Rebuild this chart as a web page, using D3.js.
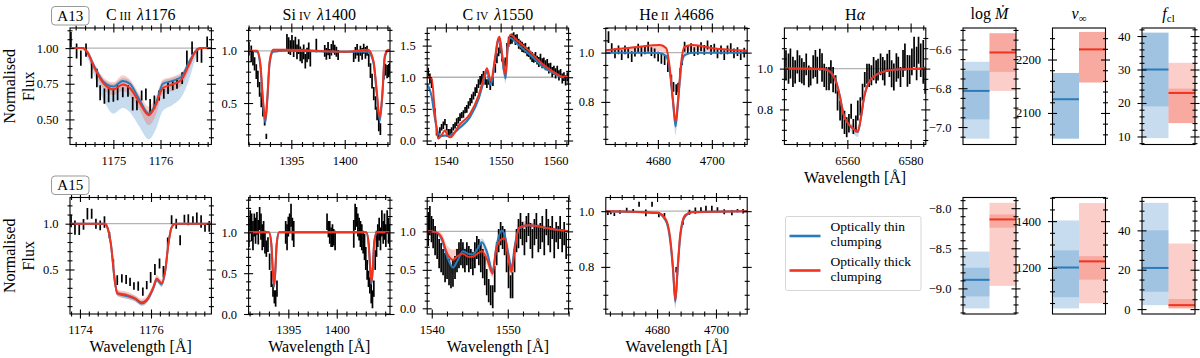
<!DOCTYPE html>
<html>
<head>
<meta charset="utf-8">
<script src="https://cdn.jsdelivr.net/npm/d3@7"></script>
<style>
	body { margin: 0; background: #fff; }
	svg { font-family: "Liberation Serif", "DejaVu Serif", serif; }
</style>
</head>
<body>
<svg id="chart" width="1200" height="358"></svg>
<script>
/* ---- observed spectra: [wavelength, flux, error] ---- */
const a13_c3_obs = [
	[1174.10,1.06,0.053],[1174.22,0.98,0.053],[1174.31,0.93,0.053],[1174.42,0.986,0.047],[1174.54,0.845,0.059],
	[1174.65,0.79,0.065],[1174.72,0.687,0.053],[1174.81,0.663,0.053],[1174.90,0.674,0.053],[1175.00,0.67,0.047],
	[1175.09,0.687,0.053],[1175.20,0.69,0.035],[1175.31,0.70,0.041],[1175.41,0.61,0.047],[1175.50,0.60,0.035],
	[1175.60,0.667,0.035],[1175.69,0.675,0.041],[1175.78,0.59,0.053],[1175.87,0.62,0.047],[1175.97,0.667,0.035],
	[1176.07,0.68,0.035],[1176.16,0.72,0.041],[1176.26,0.74,0.035],[1176.35,0.75,0.035],[1176.46,0.79,0.041],
	[1176.56,0.93,0.053],[1176.67,1.0,0.047],[1176.78,0.95,0.047],[1176.87,0.95,0.053],[1176.99,1.04,0.041]
];
const a13_si4_obs = [
	[1391.03,1.02,0.065],[1391.25,0.97,0.08],[1391.41,0.93,0.07],[1391.56,0.875,0.064],[1391.72,0.80,0.07],
	[1391.87,0.73,0.08],[1392.03,0.63,0.07],[1392.19,0.53,0.07],[1392.34,0.44,0.07],[1392.50,0.35,0.064],[1392.66,0.18,0.025],
	[1394.59,1.08,0.08],[1394.75,1.05,0.08],[1394.91,1.03,0.07],[1395.06,1.08,0.07],[1395.22,1.02,0.08],[1395.38,1.07,0.064],
	[1395.53,0.99,0.07],[1395.69,1.04,0.07],[1395.84,0.97,0.07],[1396.00,0.95,0.07],[1396.16,0.99,0.07],[1396.31,0.90,0.07],
	[1396.47,0.96,0.07],[1396.63,1.0,0.08],[1396.78,0.92,0.07],[1397.34,1.05,0.064],
	[1398.13,1.0,0.056],[1398.28,0.97,0.056],[1398.44,1.02,0.064],[1398.59,0.97,0.048],[1398.75,1.01,0.056],
	[1398.91,1.05,0.048],[1399.06,1.01,0.048],[1399.22,0.99,0.048],[1399.38,0.96,0.048],
	[1400.84,0.94,0.048],[1401.00,0.98,0.056],[1401.16,1.01,0.056],[1401.31,0.95,0.056],[1401.47,1.0,0.048],
	[1401.63,0.97,0.056],[1401.78,1.02,0.048],[1401.94,0.98,0.056],[1402.09,1.0,0.048],[1402.25,0.91,0.064],
	[1402.41,0.81,0.07],[1402.56,0.71,0.07],[1402.72,0.59,0.064],[1402.88,0.50,0.064],[1403.03,0.40,0.064],
	[1403.19,0.30,0.07],[1403.34,0.25,0.056],
	[1403.66,0.79,0.064],[1403.81,0.82,0.056],[1403.97,0.80,0.064],[1404.13,0.81,0.064],[1404.22,0.83,0.056]
];
const a13_c4_obs = [
	[1536.78,1.08,0.07],[1537.09,0.98,0.08],[1537.40,0.90,0.07],[1538.01,0.45,0.06],[1538.31,0.13,0.05],
	[1538.62,0.08,0.05],[1538.92,0.16,0.05],[1539.23,0.21,0.05],[1539.54,0.24,0.06],[1539.84,0.29,0.05],
	[1540.15,0.21,0.05],[1540.45,0.13,0.05],[1540.76,0.13,0.05],[1541.06,0.16,0.05],[1541.37,0.21,0.05],
	[1541.68,0.24,0.05],[1541.98,0.29,0.06],[1542.29,0.32,0.05],[1542.59,0.37,0.06],[1542.90,0.40,0.05],
	[1543.21,0.42,0.06],[1543.51,0.48,0.05],[1543.82,0.50,0.06],[1544.12,0.56,0.06],[1544.43,0.61,0.06],
	[1544.73,0.66,0.07],[1545.04,0.71,0.06],[1545.35,0.77,0.07],[1545.65,0.82,0.07],[1545.96,0.90,0.07],
	[1546.26,0.95,0.07],[1546.57,0.98,0.07],[1546.88,1.03,0.07],[1547.18,0.95,0.07],[1547.49,0.90,0.07],
	[1547.79,0.95,0.07],[1548.10,0.87,0.07],[1548.59,0.93,0.07],[1549.02,1.14,0.07],[1549.32,1.30,0.08],
	[1549.63,1.40,0.07],[1549.93,1.46,0.08],[1550.24,1.32,0.07],[1550.54,1.19,0.07],[1550.85,1.24,0.07],
	[1551.16,1.46,0.08],[1551.46,1.56,0.08],[1551.77,1.59,0.07],[1552.07,1.61,0.08],[1552.38,1.64,0.07],
	[1552.69,1.59,0.08],[1552.99,1.61,0.07],[1553.30,1.53,0.08],[1553.60,1.51,0.07],[1553.91,1.48,0.08],
	[1554.21,1.46,0.07],[1554.52,1.46,0.08],[1554.83,1.40,0.07],[1555.13,1.40,0.08],[1555.44,1.35,0.07],
	[1555.74,1.32,0.08],[1556.05,1.30,0.07],[1556.36,1.32,0.08],[1556.66,1.27,0.07],[1556.97,1.24,0.08],
	[1557.27,1.30,0.07],[1557.58,1.22,0.08],[1557.88,1.24,0.07],[1558.19,1.19,0.08],[1558.50,1.22,0.07],
	[1558.80,1.14,0.08],[1559.11,1.16,0.07],[1559.41,1.08,0.08],[1559.72,1.11,0.07],[1560.03,1.06,0.08],
	[1560.33,1.11,0.07],[1560.64,1.03,0.08],[1560.94,1.06,0.07],[1561.25,0.98,0.08],[1561.55,1.01,0.07],
	[1561.86,0.95,0.08],[1562.17,1.01,0.07],[1562.35,0.95,0.07]
];
const a13_he2_obs = [
	[4661.7,1.063,0.024],[4662.9,1.018,0.02],[4664.1,0.997,0.02],[4665.4,1.011,0.018],[4666.6,0.99,0.02],
	[4667.8,1.011,0.018],[4669.0,0.997,0.02],[4670.3,0.984,0.022],[4671.5,1.004,0.02],[4672.7,1.018,0.018],
	[4673.9,1.004,0.02],[4675.2,1.011,0.018],[4676.4,1.024,0.02],[4677.6,1.004,0.018],[4678.8,0.997,0.02],
	[4680.1,0.984,0.02],[4681.3,0.977,0.022],[4682.5,0.97,0.02],[4683.7,0.943,0.022],[4685.0,0.888,0.022],
	[4685.8,0.861,0.02],[4686.8,0.85,0.022],[4687.5,0.858,0.02],[4688.3,0.916,0.022],[4689.0,0.97,0.02],
	[4689.9,1.024,0.02],[4691.1,1.011,0.018],[4692.3,1.018,0.02],[4693.5,1.004,0.018],[4694.8,1.011,0.02],
	[4696.0,1.024,0.018],[4697.2,1.011,0.02],[4698.4,1.031,0.018],[4699.7,1.011,0.02],[4700.9,1.018,0.018],
	[4702.1,0.997,0.02],[4703.4,1.011,0.018],[4704.6,0.99,0.02],[4705.8,1.011,0.018],[4707.0,1.018,0.02],
	[4708.2,0.997,0.02],[4709.5,1.004,0.018],[4710.7,0.99,0.02],[4712.0,1.0,0.02]
];
const a13_ha_obs = [
	[6540.6,1.016,0.074],[6541.4,1.0,0.074],[6542.0,1.025,0.074],[6542.8,0.984,0.074],[6543.5,0.984,0.057],
	[6544.2,1.033,0.057],[6544.9,1.0,0.066],[6545.6,0.989,0.062],[6546.3,0.975,0.057],[6547.0,1.021,0.053],
	[6547.8,0.962,0.053],[6548.4,0.962,0.045],[6549.2,1.008,0.057],[6549.9,1.025,0.066],[6550.5,0.992,0.066],
	[6551.3,1.044,0.053],[6552.0,1.005,0.07],[6552.7,0.967,0.057],[6553.4,0.951,0.057],[6554.2,0.951,0.057],
	[6554.8,0.984,0.057],[6555.5,0.946,0.062],[6556.3,0.923,0.045],[6556.9,0.844,0.049],[6557.7,0.795,0.049],
	[6558.4,0.758,0.053],[6559.1,0.737,0.057],[6559.8,0.713,0.049],[6560.5,0.732,0.045],[6561.2,0.791,0.037],
	[6561.9,0.716,0.037],[6562.7,0.729,0.041],[6563.3,0.795,0.049],[6564.1,0.815,0.045],[6564.8,0.885,0.041],
	[6565.5,0.946,0.037],[6566.2,0.975,0.049],[6566.9,0.967,0.057],[6567.6,0.967,0.049],[6568.3,1.0,0.057],
	[6569.1,0.984,0.057],[6569.7,0.995,0.053],[6570.5,1.021,0.053],[6571.2,1.0,0.057],[6571.8,0.979,0.062],
	[6572.6,1.028,0.045],[6573.3,1.025,0.066],[6574.0,0.975,0.066],[6574.7,0.959,0.066],[6575.5,1.005,0.07],
	[6576.1,1.005,0.053],[6576.8,0.959,0.049],[6577.6,1.025,0.066],[6578.2,1.057,0.066],[6579.0,0.989,0.078],
	[6579.7,0.995,0.07],[6580.4,1.033,0.066],[6581.1,1.082,0.074],[6581.9,1.025,0.082],[6582.5,1.09,0.066],
	[6583.2,1.041,0.082],[6584.0,1.033,0.107],[6584.6,0.943,0.066]
];
const a15_c3_obs = [
	[1173.75,1.029,0.068],[1173.86,0.957,0.077],[1173.98,0.935,0.059],[1174.10,0.993,0.059],[1174.21,1.109,0.063],
	[1174.33,1.109,0.054],[1174.45,1.0,0.054],[1174.57,0.982,0.054],[1174.69,1.018,0.063],[1174.83,0.873,0.036],
	[1174.94,0.572,0.041],[1175.05,0.384,0.054],[1175.18,0.402,0.045],[1175.30,0.391,0.05],[1175.41,0.366,0.045],
	[1175.52,0.319,0.041],[1175.64,0.319,0.05],[1175.77,0.257,0.045],[1175.88,0.33,0.045],[1175.99,0.413,0.059],
	[1176.11,0.50,0.059],[1176.24,0.565,0.054],[1176.35,0.475,0.063],[1176.47,0.79,0.059],[1176.58,1.043,0.05],
	[1176.71,1.0,0.054],[1176.82,0.819,0.054],[1176.94,1.054,0.045],[1177.05,1.043,0.059],[1177.18,1.036,0.045],
	[1177.29,1.062,0.059],[1177.41,1.025,0.068],[1177.52,0.953,0.041],[1177.64,0.971,0.059]
];
const a15_si4_obs = [
	[1390.93,1.0,0.18],[1391.07,1.13,0.14],[1391.21,1.06,0.17],[1391.35,0.96,0.18],[1391.49,1.09,0.14],
	[1391.62,1.02,0.16],[1391.76,1.11,0.14],[1391.90,1.0,0.15],[1392.04,1.17,0.14],[1392.18,1.07,0.16],
	[1392.31,0.94,0.16],[1392.45,0.98,0.16],[1392.59,0.88,0.14],[1392.73,0.80,0.10],[1392.90,0.85,0.09],
	[1393.07,0.64,0.10],[1393.24,0.43,0.10],[1393.42,0.29,0.08],[1393.56,0.21,0.08],[1393.69,0.19,0.10],[1393.83,0.31,0.10],
	[1394.73,1.0,0.14],[1394.87,0.94,0.16],[1395.00,1.07,0.12],[1395.14,1.11,0.12],[1395.28,1.21,0.14],
	[1395.42,1.04,0.14],[1395.56,0.98,0.16],
	[1399.00,1.13,0.10],[1399.14,1.04,0.10],[1399.28,1.0,0.14],[1399.42,0.94,0.12],[1399.56,0.96,0.14],
	[1399.69,0.94,0.10],[1399.83,0.90,0.12],
	[1401.76,0.98,0.17],[1401.90,1.19,0.16],[1402.04,1.19,0.12],[1402.18,1.09,0.14],[1402.31,1.04,0.14],
	[1402.45,0.98,0.16],[1402.59,0.94,0.16],[1402.73,0.88,0.14],[1402.87,0.82,0.16],[1403.00,0.68,0.14],
	[1403.14,0.54,0.12],[1403.28,0.43,0.10],[1403.42,0.35,0.10],[1403.56,0.25,0.12],[1403.69,0.18,0.11],
	[1403.83,0.31,0.10],[1403.97,0.66,0.12],[1404.11,0.86,0.16],[1404.24,0.96,0.14],[1404.38,1.04,0.14],
	[1404.52,0.92,0.14],[1404.66,1.11,0.16],[1404.80,1.0,0.14],[1404.93,1.07,0.16],[1405.07,0.96,0.14],
	[1405.21,1.13,0.14],[1405.35,1.02,0.16],[1405.49,0.96,0.14]
];
const a15_c4_obs = [
	[1539.53,1.03,0.22],[1539.75,1.14,0.19],[1539.97,1.03,0.17],[1540.18,0.97,0.19],[1540.44,0.88,0.19],
	[1540.71,0.81,0.17],[1540.97,0.71,0.19],[1541.23,0.66,0.19],[1541.49,0.60,0.17],[1541.75,0.53,0.19],
	[1542.01,0.53,0.15],[1542.27,0.47,0.17],[1542.53,0.41,0.15],[1542.79,0.46,0.18],[1543.06,0.53,0.15],
	[1543.32,0.62,0.15],[1543.58,0.69,0.17],[1543.84,0.73,0.17],[1544.10,0.69,0.17],[1544.36,0.62,0.15],
	[1544.62,0.71,0.15],[1544.88,0.64,0.17],[1545.14,0.64,0.13],[1545.41,0.58,0.15],[1545.67,0.69,0.17],
	[1545.93,0.79,0.15],[1546.19,0.73,0.17],[1546.45,0.66,0.19],[1546.71,0.58,0.19],[1546.97,0.49,0.19],
	[1547.23,0.34,0.17],[1547.49,0.23,0.15],[1547.75,0.17,0.13],[1548.02,0.15,0.15],[1548.28,0.38,0.17],
	[1548.54,0.71,0.15],[1548.80,0.88,0.15],[1549.06,0.97,0.15],[1549.32,0.92,0.15],[1549.58,0.86,0.17],
	[1549.84,0.64,0.17],[1550.10,0.43,0.17],[1550.37,0.28,0.15],[1550.63,0.30,0.17],[1550.89,0.62,0.15],
	[1551.15,0.88,0.15],[1551.41,0.97,0.19],[1551.67,1.07,0.17],[1551.93,0.97,0.15],[1552.19,0.86,0.17],
	[1552.45,1.03,0.17],[1552.72,1.09,0.15],[1552.98,0.94,0.17],[1553.24,0.84,0.19],[1553.50,0.99,0.17],
	[1553.76,1.07,0.17],[1554.02,0.90,0.17],[1554.28,0.94,0.17],[1554.54,1.03,0.17],[1554.80,0.86,0.17],
	[1555.07,1.12,0.17],[1555.33,0.99,0.17],[1555.59,0.90,0.17],[1555.85,1.05,0.15],[1556.11,0.84,0.19],
	[1556.37,0.99,0.13],[1556.63,0.92,0.15],[1556.89,1.05,0.15],[1557.15,0.88,0.15],[1557.42,0.97,0.15],
	[1557.68,0.81,0.17]
];
const a15_he2_obs = [
	[4663.3,0.994,0.008],[4664.3,0.995,0.006],[4665.5,0.989,0.006],[4667.4,0.997,0.006],[4669.7,1.004,0.008],
	[4671.9,1.002,0.006],[4673.9,1.025,0.009],[4676.2,0.994,0.012],[4678.3,1.025,0.009],[4680.6,0.987,0.009],
	[4682.5,0.986,0.007],[4686.5,0.79,0.01],[4688.8,0.96,0.009],[4691.0,0.996,0.009],[4693.0,1.002,0.011],
	[4694.9,1.005,0.009],[4696.6,1.01,0.009],[4698.6,1.01,0.009],[4700.5,1.005,0.009],[4702.8,0.998,0.009],
	[4705.4,0.994,0.009],[4707.3,1.002,0.006],[4709.2,1.0,0.008]
];

/* ---- models: [wavelength, thin, thick, thinLo, thinHi, thickLo, thickHi] ---- */
const a13_c3_mod = [
	[1174.08,1.00,1.00,1.00,1.00,1.00,1.00],[1174.35,1.00,1.00,0.99,1.00,0.99,1.00],
	[1174.45,0.97,0.97,0.93,0.98,0.95,0.99],[1174.60,0.87,0.86,0.80,0.88,0.83,0.89],
	[1174.80,0.76,0.75,0.63,0.78,0.71,0.79],[1175.00,0.73,0.71,0.54,0.75,0.67,0.76],
	[1175.20,0.77,0.745,0.58,0.79,0.70,0.81],[1175.35,0.75,0.72,0.55,0.77,0.67,0.78],
	[1175.55,0.64,0.62,0.45,0.66,0.57,0.68],[1175.75,0.54,0.53,0.36,0.56,0.46,0.59],
	[1175.90,0.61,0.60,0.43,0.63,0.53,0.66],[1176.05,0.75,0.72,0.56,0.77,0.68,0.78],
	[1176.25,0.77,0.745,0.60,0.79,0.70,0.80],[1176.45,0.80,0.78,0.66,0.82,0.74,0.83],
	[1176.60,0.90,0.88,0.77,0.91,0.84,0.91],[1176.75,0.98,0.98,0.93,0.99,0.96,0.99],
	[1176.85,1.00,1.00,0.99,1.00,0.99,1.00],[1177.08,1.00,1.00,1.00,1.00,1.00,1.00]
];
const a13_si4_mod = [
	[1391.0,1.00,1.00,0.99,1.00,1.00,1.01],[1391.8,0.99,1.00,0.98,1.00,0.99,1.01],
	[1392.1,0.85,0.88,0.82,0.88,0.86,0.90],[1392.35,0.50,0.53,0.46,0.53,0.51,0.56],
	[1392.56,0.31,0.34,0.27,0.33,0.32,0.36],[1392.75,0.52,0.55,0.48,0.55,0.53,0.57],
	[1392.97,0.88,0.90,0.85,0.90,0.88,0.92],[1393.3,0.99,1.01,0.98,1.00,1.00,1.02],
	[1394.5,1.00,1.01,0.99,1.00,1.00,1.02],[1400.1,0.99,0.99,0.98,1.00,0.98,1.00],
	[1402.2,0.99,1.01,0.98,1.00,1.00,1.02],[1402.7,0.88,0.90,0.85,0.90,0.88,0.92],
	[1402.97,0.62,0.65,0.58,0.65,0.62,0.67],[1403.28,0.33,0.36,0.29,0.35,0.34,0.38],
	[1403.53,0.58,0.60,0.55,0.61,0.58,0.62],[1403.75,0.93,0.95,0.90,0.95,0.93,0.97],
	[1404.06,1.00,1.01,0.99,1.00,1.00,1.02],[1404.24,1.00,1.00,1.00,1.00,1.00,1.01]
];
const a13_c4_mod = [
	[1536.6,0.88,1.00,0.84,0.92,0.98,1.02],[1537.4,0.70,0.99,0.65,0.74,0.96,1.01],
	[1538.0,0.35,0.45,0.31,0.39,0.41,0.49],[1538.6,0.12,0.03,0.09,0.15,0.01,0.05],
	[1539.2,0.07,0.08,0.05,0.09,0.06,0.10],[1539.85,0.08,0.16,0.06,0.10,0.14,0.18],
	[1540.3,0.07,0.08,0.05,0.09,0.06,0.10],[1540.8,0.08,0.05,0.06,0.10,0.03,0.07],
	[1542.5,0.20,0.25,0.17,0.23,0.23,0.27],[1544.4,0.37,0.42,0.34,0.40,0.40,0.44],
	[1546.0,0.66,0.72,0.63,0.69,0.70,0.74],[1546.9,0.93,0.98,0.89,0.96,0.96,1.00],
	[1547.5,1.10,1.14,1.05,1.13,1.11,1.16],[1548.2,0.88,0.95,0.80,0.92,0.92,0.98],
	[1549.0,1.28,1.32,1.24,1.31,1.30,1.34],[1549.45,1.55,1.58,1.51,1.58,1.56,1.60],
	[1549.8,1.60,1.64,1.56,1.63,1.62,1.66],[1550.3,1.30,1.35,1.24,1.33,1.32,1.37],
	[1550.9,0.98,1.04,0.90,1.01,1.01,1.07],[1551.3,1.48,1.50,1.44,1.51,1.48,1.52],
	[1551.8,1.62,1.67,1.59,1.65,1.65,1.69],[1553.0,1.53,1.58,1.50,1.56,1.56,1.60],
	[1555.4,1.35,1.40,1.32,1.38,1.38,1.42],[1557.5,1.18,1.22,1.16,1.20,1.20,1.24],
	[1559.7,1.06,1.08,1.04,1.07,1.07,1.09],[1561.2,1.00,1.01,0.99,1.01,1.00,1.02],
	[1562.4,1.00,1.00,0.99,1.00,0.99,1.01]
];
const a13_he2_mod = [
	[4660.7,1.000,1.010,0.995,1.003,1.004,1.013],[4673.3,1.000,1.024,0.995,1.003,1.005,1.028],
	[4680.7,0.998,1.031,0.993,1.002,1.005,1.035],[4683.1,0.985,1.018,0.975,0.992,1.000,1.024],
	[4684.35,0.93,0.943,0.91,0.94,0.93,0.955],[4685.6,0.80,0.807,0.77,0.81,0.79,0.82],
	[4686.56,0.70,0.72,0.665,0.715,0.70,0.735],[4687.5,0.80,0.81,0.77,0.81,0.79,0.82],
	[4688.6,0.94,0.956,0.92,0.95,0.94,0.965],[4689.9,0.99,1.024,0.98,0.997,1.005,1.03],
	[4692.9,1.000,1.031,0.995,1.003,1.01,1.035],[4700.3,1.000,1.018,0.995,1.003,1.006,1.022],
	[4713.1,1.000,1.008,0.995,1.003,1.002,1.012]
];
const a13_ha_mod = [
	[6540.1,1.000,1.000,0.995,1.003,0.997,1.004],[6552.3,0.998,0.998,0.993,1.002,0.995,1.002],
	[6554.5,0.985,0.985,0.978,0.99,0.98,0.99],[6556.6,0.93,0.926,0.92,0.935,0.92,0.935],
	[6557.7,0.86,0.86,0.85,0.87,0.85,0.87],[6558.7,0.78,0.78,0.77,0.79,0.77,0.79],
	[6560.3,0.73,0.73,0.71,0.74,0.72,0.745],[6561.9,0.705,0.705,0.68,0.715,0.70,0.725],
	[6563.3,0.69,0.69,0.665,0.70,0.685,0.715],[6564.3,0.76,0.76,0.745,0.77,0.75,0.775],
	[6565.3,0.86,0.86,0.85,0.87,0.85,0.87],[6566.7,0.93,0.93,0.925,0.94,0.925,0.94],
	[6568.3,0.96,0.96,0.955,0.965,0.955,0.965],[6571.5,0.985,0.985,0.98,0.99,0.98,0.99],
	[6575.8,0.995,0.995,0.99,1.0,0.99,1.0],[6584.8,1.000,1.000,0.995,1.003,0.997,1.004]
];
const a15_c3_mod = [
	[1173.72,1.00,1.00,0.99,1.00,0.99,1.00],[1174.70,1.00,1.00,0.99,1.00,0.99,1.00],
	[1174.75,0.98,0.98,0.97,0.99,0.97,0.99],[1174.87,0.78,0.78,0.75,0.80,0.75,0.81],
	[1174.99,0.35,0.35,0.32,0.38,0.32,0.39],[1175.05,0.24,0.24,0.21,0.27,0.21,0.28],
	[1175.32,0.21,0.22,0.18,0.24,0.18,0.26],[1175.55,0.18,0.185,0.15,0.21,0.15,0.22],
	[1175.74,0.13,0.14,0.10,0.16,0.11,0.18],[1175.88,0.16,0.17,0.13,0.19,0.14,0.21],
	[1176.07,0.30,0.31,0.27,0.33,0.27,0.35],[1176.16,0.39,0.40,0.36,0.42,0.36,0.44],
	[1176.30,0.34,0.35,0.31,0.37,0.31,0.39],[1176.40,0.48,0.49,0.45,0.51,0.45,0.53],
	[1176.49,0.78,0.78,0.75,0.80,0.75,0.81],[1176.58,0.96,0.96,0.94,0.97,0.94,0.97],
	[1176.68,1.00,1.00,0.99,1.00,0.99,1.00],[1177.70,1.00,1.00,0.99,1.00,0.99,1.00]
];
const a15_si4_mod = [
	[1390.9,1.00,1.00,1.00,1.00,1.00,1.00],[1393.0,1.00,1.00,0.99,1.00,0.99,1.00],
	[1393.25,0.85,0.86,0.83,0.87,0.84,0.88],[1393.40,0.52,0.53,0.49,0.55,0.50,0.56],
	[1393.52,0.33,0.35,0.30,0.36,0.32,0.38],[1393.65,0.50,0.52,0.47,0.53,0.49,0.55],
	[1393.80,0.85,0.86,0.83,0.87,0.84,0.88],[1394.05,1.00,1.00,0.99,1.00,0.99,1.00],
	[1403.05,1.00,1.00,0.99,1.00,0.99,1.00],[1403.30,0.85,0.86,0.83,0.87,0.84,0.88],
	[1403.47,0.52,0.53,0.49,0.55,0.50,0.56],[1403.59,0.37,0.39,0.34,0.40,0.36,0.42],
	[1403.72,0.55,0.57,0.52,0.58,0.54,0.60],[1403.88,0.88,0.89,0.86,0.90,0.87,0.91],
	[1404.15,1.00,1.00,0.99,1.00,0.99,1.00],[1405.5,1.00,1.00,1.00,1.00,1.00,1.00]
];
const a15_c4_mod = [
	[1539.4,1.00,1.00,0.99,1.01,0.99,1.01],[1540.5,0.99,0.99,0.97,1.01,0.97,1.01],
	[1541.3,0.90,0.92,0.84,0.94,0.88,0.98],[1542.0,0.68,0.72,0.60,0.74,0.66,0.82],
	[1542.8,0.53,0.63,0.45,0.58,0.58,0.76],[1543.4,0.62,0.68,0.55,0.68,0.62,0.78],
	[1544.1,0.74,0.71,0.68,0.80,0.65,0.77],[1544.8,0.71,0.67,0.65,0.77,0.61,0.73],
	[1545.4,0.70,0.67,0.64,0.76,0.61,0.73],[1546.0,0.77,0.71,0.71,0.83,0.65,0.77],
	[1546.6,0.86,0.74,0.80,0.91,0.66,0.80],[1547.3,0.72,0.63,0.65,0.78,0.55,0.70],
	[1548.0,0.48,0.45,0.42,0.54,0.40,0.52],[1548.5,0.80,0.78,0.74,0.86,0.72,0.84],
	[1549.2,1.01,0.90,0.96,1.06,0.84,1.02],[1549.6,0.95,0.91,0.90,1.00,0.86,1.00],
	[1550.1,0.70,0.62,0.64,0.76,0.56,0.70],[1550.5,0.52,0.47,0.47,0.58,0.42,0.54],
	[1550.9,0.80,0.75,0.74,0.86,0.70,0.84],[1551.5,1.04,1.05,1.00,1.08,1.00,1.14],
	[1552.8,1.08,1.08,1.05,1.11,1.05,1.12],[1555.8,1.03,1.03,1.01,1.05,1.01,1.05],
	[1558.0,1.00,1.00,0.99,1.01,0.99,1.01]
];
const a15_he2_mod = [
	[4662.6,1.000,1.000,0.997,1.002,0.997,1.002],[4680.0,0.993,0.995,0.99,0.997,0.99,0.998],
	[4683.0,0.965,0.97,0.96,0.975,0.96,0.976],[4684.5,0.89,0.90,0.88,0.905,0.88,0.91],
	[4685.4,0.79,0.80,0.77,0.805,0.78,0.81],[4686.2,0.675,0.68,0.65,0.69,0.66,0.70],
	[4687.0,0.79,0.80,0.77,0.805,0.78,0.81],[4687.9,0.91,0.92,0.90,0.925,0.90,0.93],
	[4689.5,0.98,0.985,0.975,0.99,0.978,0.99],[4692.0,0.996,0.997,0.993,0.999,0.993,0.999],
	[4710.6,1.000,1.000,0.998,1.002,0.998,1.002]
];

/* ---- wind parameters: [median, lo1, hi1, lo2, hi2], thin then thick ---- */
const a13_logmdot = [[-6.814,-6.96,-6.71,-7.06,-6.664],[-6.616,-6.716,-6.517,-6.814,-6.517]];
const a13_vinf    = [[2125.7,2052,2174.9,2052,2174.9],[2219,2157,2251.6,2157,2251.6]];
const a13_fcl     = [[30,19.0,41,9.5,41],[23,14,24.3,14,32]];
const a15_logmdot = [[-8.893,-9.099,-8.743,-9.249,-8.541],[-8.14,-8.243,-8.078,-8.968,-7.933]];
const a15_vinf    = [[1201.7,1075,1275,1027,1403],[1228,1150,1250,1049,1477]];
const a15_fcl     = [[20.9,8.8,40,2.0,54.0],[2.0,0.35,5.1,0.35,33.3]];

const stars = ["A13", "A15"];
const legendLabels = [["Optically thin", "clumping"], ["Optically thick", "clumping"]];

/* ---- layout and style ---- */
const BLUE = "#2b7bba", RED = "#f0321e";
const BLUE_FILL = "rgb(70,140,200)", RED_FILL = "rgb(240,60,40)";
const rowTop = [28, 197.5], panelH = 116.5;
const specLeft = [70, 248.6, 427.2, 605.8, 784.4], specW = 141.4;
const parLeft = [963, 1052.5, 1142], parW = 53;
const TICK_FONT = 12.5;

const svg = d3.select("#chart");

/* ticks that stick out on both sides of the frame */
function addAxis(g, orient, scale, major, minorStep, fmt, labels, shift) {
	const make = {left: d3.axisLeft, right: d3.axisRight, top: d3.axisTop, bottom: d3.axisBottom}[orient];
	const [lo, hi] = d3.extent(scale.domain());
	const minor = d3.range(Math.ceil(lo / minorStep - 1e-6), Math.floor(hi / minorStep + 1e-6) + 1)
		.map(i => +(i * minorStep).toFixed(6))
		.filter(v => !major.some(m => Math.abs(m - v) < 1e-6));
	const gm = g.append("g").attr("transform", shift)
		.call(make(scale).tickValues(minor).tickSize(2.5).tickFormat(""));
	const gM = g.append("g").attr("transform", shift)
		.call(make(scale).tickValues(major).tickSize(4.5).tickPadding(7).tickFormat(labels ? d3.format(fmt) : ""));
	[gm, gM].forEach(a => {
		a.select(".domain").remove();
		a.attr("font-family", null).attr("font-size", null);
		a.selectAll(".tick line").each(function () {
			const l = d3.select(this);
			if (orient === "left" || orient === "right") l.attr("x1", -(+l.attr("x2")));
			else l.attr("y1", -(+l.attr("y2")));
		}).attr("stroke", "#000").attr("stroke-width", 1.1);
	});
	gM.selectAll("text").attr("font-size", TICK_FONT).attr("fill", "#000");
}

function addTitle(g, cx, parts) {
	const t = g.append("text").attr("x", cx).attr("y", 20).attr("text-anchor", "middle").attr("font-size", 16);
	t.append("tspan").text(parts[0]);
	if (parts[1]) t.append("tspan").attr("font-size", 11.5).attr("dx", 3).text(parts[1]);
	t.append("tspan").attr("font-style", "italic").attr("dx", 6).text("λ");
	t.append("tspan").text(parts[2]);
}

const spectra = [
	{row: 0, col: 0, obs: a13_c3_obs, mod: a13_c3_mod, xd: [1174.08, 1177.08], yd: [0.324, 1.141],
		xt: [1175, 1176], xm: 0.2, yt: [0.5, 0.75, 1.0], ym: 0.0625, yf: ".2f", title: ["C", "III", "1176"]},
	{row: 0, col: 1, obs: a13_si4_obs, mod: a13_si4_mod, xd: [1391.0, 1404.24], yd: [0.103, 1.218],
		xt: [1395, 1400], xm: 1, yt: [0.5, 1.0], ym: 0.1, yf: ".1f", title: ["Si", "IV", "1400"]},
	{row: 0, col: 2, obs: a13_c4_obs, mod: a13_c4_mod, xd: [1536.6, 1562.4], yd: [-0.063, 1.778],
		xt: [1540, 1550, 1560], xm: 2, yt: [0, 0.5, 1.0, 1.5], ym: 0.1, yf: ".1f", title: ["C", "IV", "1550"]},
	{row: 0, col: 3, obs: a13_he2_obs, mod: a13_he2_mod, xd: [4660.7, 4713.1], yd: [0.627, 1.10],
		xt: [4680, 4700], xm: 4, yt: [0.8, 1.0], ym: 0.05, yf: ".1f", title: ["He", "II", "4686"]},
	{row: 0, col: 4, obs: a13_ha_obs, mod: a13_ha_mod, xd: [6540.1, 6584.8], yd: [0.628, 1.199],
		xt: [6560, 6580], xm: 4, yt: [0.8, 1.0], ym: 0.05, yf: ".1f", halpha: true, xlabel: true},
	{row: 1, col: 0, obs: a15_c3_obs, mod: a15_c3_mod, xd: [1173.72, 1177.7], yd: [0.014, 1.286],
		xt: [1174, 1176], xm: 0.25, yt: [0.5, 1.0], ym: 0.1, yf: ".1f", xlabel: true},
	{row: 1, col: 1, obs: a15_si4_obs, mod: a15_si4_mod, xd: [1390.9, 1405.5], yd: [0.0, 1.427],
		xt: [1395, 1400], xm: 1, yt: [0, 0.5, 1.0], ym: 0.1, yf: ".1f", xlabel: true},
	{row: 1, col: 2, obs: a15_c4_obs, mod: a15_c4_mod, xd: [1539.4, 1558.0], yd: [-0.074, 1.44],
		xt: [1540, 1550], xm: 2, yt: [0, 0.5, 1.0], ym: 0.1, yf: ".1f", xlabel: true},
	{row: 1, col: 3, obs: a15_he2_obs, mod: a15_he2_mod, xd: [4662.6, 4710.6], yd: [0.631, 1.049],
		xt: [4680, 4700], xm: 4, yt: [0.8, 1.0], ym: 0.05, yf: ".1f", xlabel: true}
];

spectra.forEach((p, k) => {
	const g = svg.append("g").attr("transform", `translate(${specLeft[p.col]},${rowTop[p.row]})`);
	const x = d3.scaleLinear().domain(p.xd).range([0, specW]);
	const y = d3.scaleLinear().domain(p.yd).range([panelH, 0]);

	g.append("clipPath").attr("id", "clip" + k)
		.append("rect").attr("width", specW).attr("height", panelH);
	const body = g.append("g").attr("clip-path", `url(#clip${k})`);

	const band = (lo, hi) => d3.area().x(d => x(d[0])).y0(d => y(d[lo])).y1(d => y(d[hi])).curve(d3.curveMonotoneX);
	body.append("path").datum(p.mod).attr("d", band(3, 4)).attr("fill", BLUE_FILL).attr("fill-opacity", 0.3);
	body.append("path").datum(p.mod).attr("d", band(5, 6)).attr("fill", RED_FILL).attr("fill-opacity", 0.25);

	body.append("line").attr("x1", 0).attr("x2", specW).attr("y1", y(1)).attr("y2", y(1))
		.attr("stroke", "#b3b3b3").attr("stroke-width", 1.3);

	body.selectAll("line.obs").data(p.obs).join("line").attr("class", "obs")
		.attr("x1", d => x(d[0])).attr("x2", d => x(d[0]))
		.attr("y1", d => y(d[1] - d[2])).attr("y2", d => y(d[1] + d[2]))
		.attr("stroke", "#000").attr("stroke-width", 1.7);

	const model = col => d3.line().x(d => x(d[0])).y(d => y(d[col])).curve(d3.curveMonotoneX);
	body.append("path").datum(p.mod).attr("d", model(1)).attr("fill", "none").attr("stroke", BLUE).attr("stroke-width", 2);
	body.append("path").datum(p.mod).attr("d", model(2)).attr("fill", "none").attr("stroke", RED).attr("stroke-width", 2);

	g.append("rect").attr("width", specW).attr("height", panelH)
		.attr("fill", "none").attr("stroke", "#000").attr("stroke-width", 1.1);

	addAxis(g, "left", y, p.yt, p.ym, p.yf, true, null);
	addAxis(g, "right", y, p.yt, p.ym, p.yf, false, `translate(${specW},0)`);
	addAxis(g, "bottom", x, p.xt, p.xm, "d", true, `translate(0,${panelH})`);
	addAxis(g, "top", x, p.xt, p.xm, "d", false, null);

	if (p.title) addTitle(svg, specLeft[p.col] + specW / 2, p.title);
	if (p.halpha) {
		const t = svg.append("text").attr("x", specLeft[p.col] + specW / 2).attr("y", 20)
			.attr("text-anchor", "middle").attr("font-size", 16);
		t.append("tspan").text("H");
		t.append("tspan").attr("font-style", "italic").text("α");
	}
	if (p.xlabel) {
		svg.append("text").attr("x", specLeft[p.col] + specW / 2).attr("y", p.row ? 352 : 183)
			.attr("text-anchor", "middle").attr("font-size", 16).text("Wavelength [Å]");
	}
});

/* star labels and y-axis titles */
stars.forEach((s, r) => {
	const by = r ? 176 : 6.5;
	svg.append("rect").attr("x", 51.5).attr("y", by).attr("width", 37.5).attr("height", 18.5).attr("rx", 3.5)
		.attr("fill", "#fff").attr("stroke", "#999").attr("stroke-width", 1);
	svg.append("text").attr("x", 70.25).attr("y", by + 14.2).attr("text-anchor", "middle")
		.attr("font-size", 15).text(s);
	const cy = rowTop[r] + panelH / 2;
	svg.append("text").attr("transform", `translate(15,${cy}) rotate(-90)`).attr("text-anchor", "middle")
		.attr("font-size", 16).text("Normalised");
	svg.append("text").attr("transform", `translate(34,${cy}) rotate(-90)`).attr("text-anchor", "middle")
		.attr("font-size", 16).text("Flux");
});

/* wind parameter panels */
const params = [
	{row: 0, col: 0, data: a13_logmdot, yd: [-7.09, -6.49], yt: [-7.0, -6.8, -6.6], ym: 0.05, yf: ".1f"},
	{row: 0, col: 1, data: a13_vinf, yd: [2041, 2259], yt: [2100, 2200], ym: 20, yf: "d"},
	{row: 0, col: 2, data: a13_fcl, yd: [7.6, 42.4], yt: [10, 20, 30, 40], ym: 2, yf: "d"},
	{row: 1, col: 0, data: a15_logmdot, yd: [-9.319, -7.867], yt: [-9.0, -8.5, -8.0], ym: 0.1, yf: ".1f"},
	{row: 1, col: 1, data: a15_vinf, yd: [1003, 1501], yt: [1200, 1400], ym: 50, yf: "d"},
	{row: 1, col: 2, data: a15_fcl, yd: [-2.5, 56.7], yt: [0, 20, 40], ym: 5, yf: "d"}
];

params.forEach(p => {
	const g = svg.append("g").attr("transform", `translate(${parLeft[p.col]},${rowTop[p.row]})`);
	const x = d3.scaleBand().domain([0, 1]).range([0, parW]);
	const y = d3.scaleLinear().domain(p.yd).range([panelH, 0]);
	p.data.forEach((d, i) => {
		const fill = i ? RED_FILL : BLUE_FILL, op = i ? 0.25 : 0.3;
		g.append("rect").attr("x", x(i)).attr("width", x.bandwidth())
			.attr("y", y(d[4])).attr("height", y(d[3]) - y(d[4])).attr("fill", fill).attr("fill-opacity", op);
		g.append("rect").attr("x", x(i)).attr("width", x.bandwidth())
			.attr("y", y(d[2])).attr("height", y(d[1]) - y(d[2])).attr("fill", fill).attr("fill-opacity", op);
		g.append("line").attr("x1", x(i)).attr("x2", x(i) + x.bandwidth()).attr("y1", y(d[0])).attr("y2", y(d[0]))
			.attr("stroke", i ? RED : BLUE).attr("stroke-width", 2);
	});
	g.append("rect").attr("width", parW).attr("height", panelH)
		.attr("fill", "none").attr("stroke", "#000").attr("stroke-width", 1.1);
	addAxis(g, "left", y, p.yt, p.ym, p.yf, true, null);
	addAxis(g, "right", y, p.yt, p.ym, p.yf, false, `translate(${parW},0)`);
});

/* parameter titles */
const tM = svg.append("text").attr("x", parLeft[0] + parW / 2).attr("y", 19).attr("text-anchor", "middle").attr("font-size", 16);
tM.append("tspan").text("log ");
tM.append("tspan").attr("font-style", "italic").text("Ṁ");
const tV = svg.append("text").attr("x", parLeft[1] + parW / 2).attr("y", 19).attr("text-anchor", "middle").attr("font-size", 16);
tV.append("tspan").attr("font-style", "italic").text("v");
tV.append("tspan").attr("font-size", 11).attr("dy", 3).text("∞");
const tF = svg.append("text").attr("x", parLeft[2] + parW / 2).attr("y", 19).attr("text-anchor", "middle").attr("font-size", 16);
tF.append("tspan").attr("font-style", "italic").text("f");
tF.append("tspan").attr("font-size", 11).attr("dy", 3).text("cl");

/* legend */
const lg = svg.append("g").attr("transform", "translate(785.5,216.5)");
lg.append("rect").attr("width", 135.5).attr("height", 74).attr("fill", "#fff")
	.attr("stroke", "#d6d6d6").attr("stroke-width", 1).attr("rx", 2);
legendLabels.forEach((lab, i) => {
	const cy = i ? 54 : 19.5;
	lg.append("line").attr("x1", 4).attr("x2", 35).attr("y1", cy).attr("y2", cy)
		.attr("stroke", i ? RED : BLUE).attr("stroke-width", 2.6);
	lab.forEach((s, j) => {
		lg.append("text").attr("x", 45).attr("y", cy - 5 + j * 15).attr("font-size", 13.5).text(s);
	});
});
</script>
</body>
</html>
